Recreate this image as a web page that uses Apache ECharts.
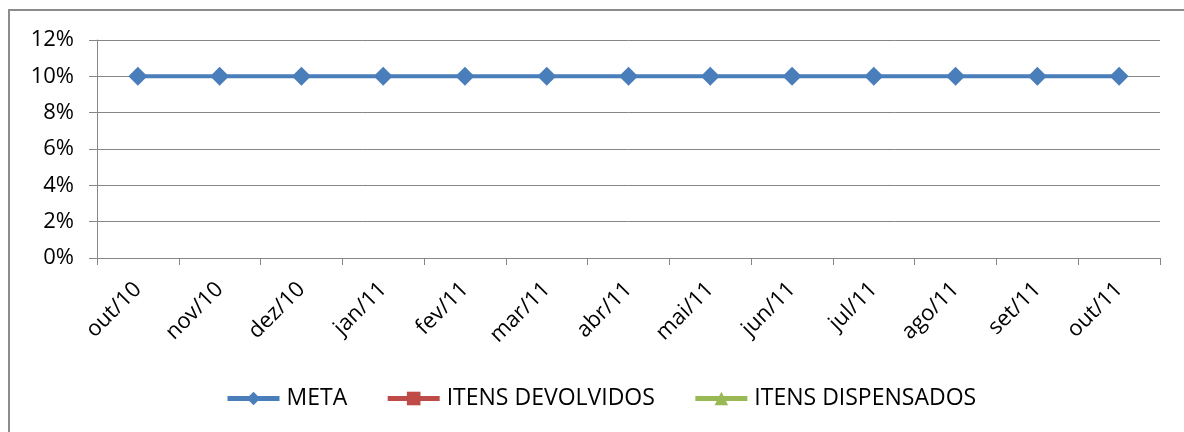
<!DOCTYPE html>
<html>
<head>
<meta charset="utf-8">
<script src="https://cdn.jsdelivr.net/npm/echarts@6/dist/echarts.min.js"></script>
<style>
  html, body { margin: 0; padding: 0; background: #fff; }
  #chart { width: 1184px; height: 432px; }
</style>
</head>
<body>
<div id="chart"></div>
<script>
// Monthly categories
const months = ['out/10', 'nov/10', 'dez/10', 'jan/11', 'fev/11', 'mar/11', 'abr/11',
                'mai/11', 'jun/11', 'jul/11', 'ago/11', 'set/11', 'out/11'];

// Series values (fractions, shown as percentages)
const meta = [0.10, 0.10, 0.10, 0.10, 0.10, 0.10, 0.10, 0.10, 0.10, 0.10, 0.10, 0.10, 0.10];
const itensDevolvidos = [null, null, null, null, null, null, null, null, null, null, null, null, null];
const itensDispensados = [null, null, null, null, null, null, null, null, null, null, null, null, null];

const FONT = 'Open Sans';
const BLUE = '#4A7EBB', RED = '#BE4B48', GREEN = '#98B954';
const chart = echarts.init(document.getElementById('chart'), null, { renderer: 'canvas' });

chart.setOption({
  backgroundColor: '#ffffff',
  animation: false,
  graphic: [{
    type: 'rect',
    shape: { x: 9, y: 10, width: 1300, height: 600 },
    style: { fill: 'none', stroke: '#8c8c8c', lineWidth: 2 },
    silent: true,
    z: -1
  }],
  grid: { left: 97, right: 24, top: 40, bottom: 174 },
  legend: {
    top: 382,
    left: 220,
    itemWidth: 52,
    itemHeight: 17,
    itemGap: 38,
    textStyle: { fontFamily: FONT, fontSize: 23, color: '#000', padding: [0, 0, 0, 2] },
    data: [
      { name: 'META', lineStyle: { width: 5, color: BLUE } },
      { name: 'ITENS DEVOLVIDOS', lineStyle: { width: 5, color: RED } },
      { name: 'ITENS DISPENSADOS', lineStyle: { width: 5, color: GREEN } }
    ]
  },
  xAxis: {
    type: 'category',
    data: months,
    boundaryGap: true,
    axisLine: { lineStyle: { color: '#868686', width: 1 } },
    axisTick: { show: true, length: 7, alignWithLabel: false, lineStyle: { color: '#868686' } },
    axisLabel: {
      rotate: 45, interval: 0, margin: 28,
      fontFamily: FONT, fontSize: 22, color: '#000'
    },
    splitLine: { show: false }
  },
  yAxis: {
    type: 'value',
    min: 0, max: 0.12, interval: 0.02,
    axisLine: { show: true, lineStyle: { color: '#868686', width: 1 } },
    axisTick: { show: true, length: 8, inside: false, lineStyle: { color: '#868686' } },
    axisLabel: {
      margin: 23,
      fontFamily: FONT, fontSize: 22, color: '#000',
      formatter: v => Math.round(v * 100) + '%'
    },
    splitLine: { show: true, lineStyle: { color: '#868686', width: 1 } }
  },
  series: [
    {
      name: 'META', type: 'line', data: meta,
      symbol: 'diamond', symbolSize: 19,
      lineStyle: { color: BLUE, width: 4 },
      itemStyle: { color: BLUE }
    },
    {
      name: 'ITENS DEVOLVIDOS', type: 'line', data: itensDevolvidos,
      symbol: 'rect', symbolSize: 14,
      lineStyle: { color: RED, width: 4 },
      itemStyle: { color: RED }
    },
    {
      name: 'ITENS DISPENSADOS', type: 'line', data: itensDispensados,
      symbol: 'triangle', symbolSize: 16,
      lineStyle: { color: GREEN, width: 4 },
      itemStyle: { color: GREEN }
    }
  ]
});
</script>
</body>
</html>
